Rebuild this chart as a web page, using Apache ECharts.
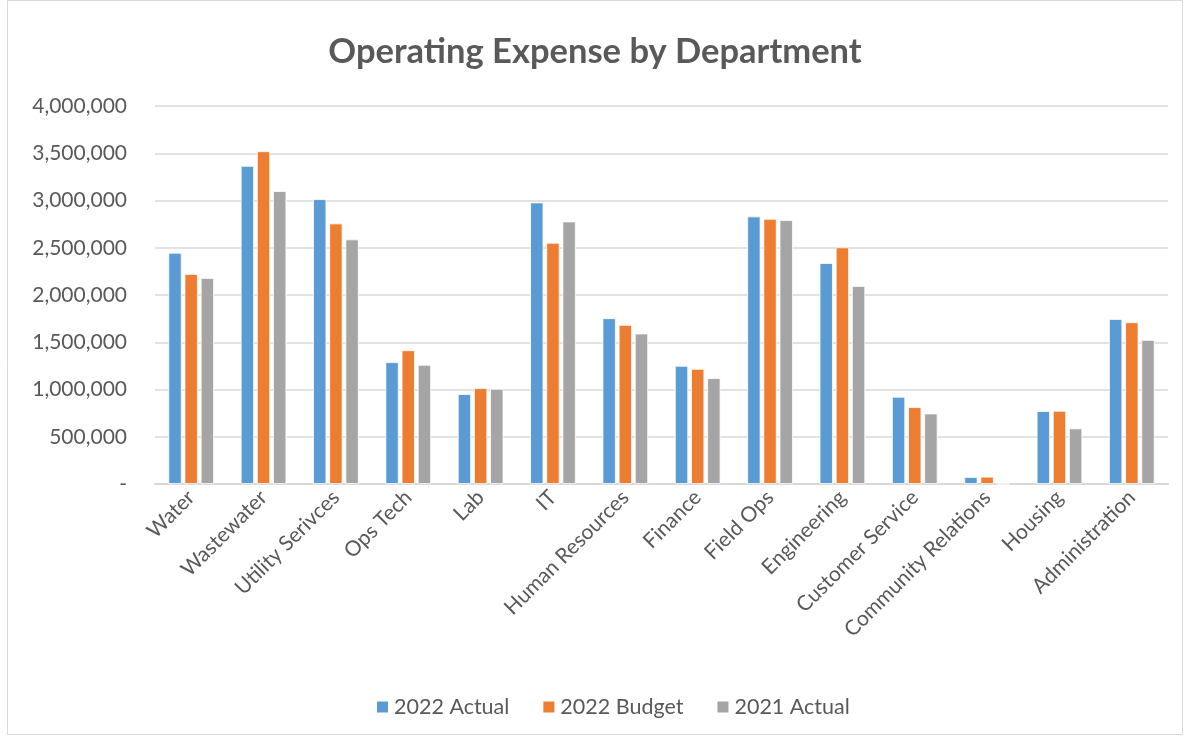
<!DOCTYPE html>
<html><head><meta charset="utf-8">
<script src="https://cdn.jsdelivr.net/npm/echarts@6/dist/echarts.min.js"></script>
<style>html,body{margin:0;padding:0;background:#fff}#c{width:1190px;height:742px}</style>
</head><body><div id="c"></div>
<script>
const categories = ['Water','Wastewater','Utility Serivces','Ops Tech','Lab','IT','Human Resources','Finance','Field Ops','Engineering','Customer Service','Community Relations','Housing','Administration'];
const actual2022 = [2447000,3366000,3014000,1289000,951000,2979000,1754000,1250000,2831000,2338000,923000,74000,771000,1746000];
const budget2022 = [2222000,3521000,2757000,1415000,1014000,2553000,1683000,1218000,2806000,2504000,813000,77000,775000,1711000];
const actual2021 = [2180000,3099000,2588000,1261000,1007000,2778000,1592000,1120000,2792000,2095000,746000,0,588000,1525000];
const seriesNames = ['2022 Actual','2022 Budget','2021 Actual'];
const colors = ['#5B9BD5','#ED7D31','#A5A5A5'];
const FONT = 'Lato';
const chart = echarts.init(document.getElementById('c'));
function fmt(v){ return v === 0 ? '-' : v.toLocaleString('en-US'); }
const data = [actual2022, budget2022, actual2021];
chart.setOption({
  animation:false,
  backgroundColor:'#fff',
  graphic:[{type:'rect',shape:{x:7.5,y:0.5,width:1175,height:734},style:{fill:'none',stroke:'#d9d9d9',lineWidth:1}}],
  title:{text:'Operating Expense by Department',left:'center',top:29,textStyle:{fontFamily:FONT,fontSize:34.5,fontWeight:'bold',color:'#595959'}},
  legend:{bottom:19,left:370,itemWidth:13,itemHeight:13,itemGap:32,icon:'rect',textStyle:{fontFamily:FONT,fontSize:21.5,color:'#595959'},data:seriesNames},
  grid:{left:155,right:22,top:106,bottom:258,containLabel:false},
  xAxis:{type:'category',data:categories,axisLine:{lineStyle:{color:'#d9d9d9',width:2}},axisTick:{show:false},
    axisLabel:{rotate:45,interval:0,fontFamily:FONT,fontSize:21,color:'#595959',margin:10}},
  yAxis:{type:'value',min:0,max:4000000,interval:500000,axisLine:{show:false},axisTick:{show:false},
    splitLine:{lineStyle:{color:'#d9d9d9',width:1.5}},
    axisLabel:{formatter:fmt,fontFamily:FONT,fontSize:21,color:'#595959',margin:28}},
  series:seriesNames.map((n,i)=>({name:n,type:'bar',data:data[i],barGap:'22%',barCategoryGap:'37%',
    itemStyle:{color:colors[i],borderColor:'#fff',borderWidth:0.8}}))
});
</script></body></html>
